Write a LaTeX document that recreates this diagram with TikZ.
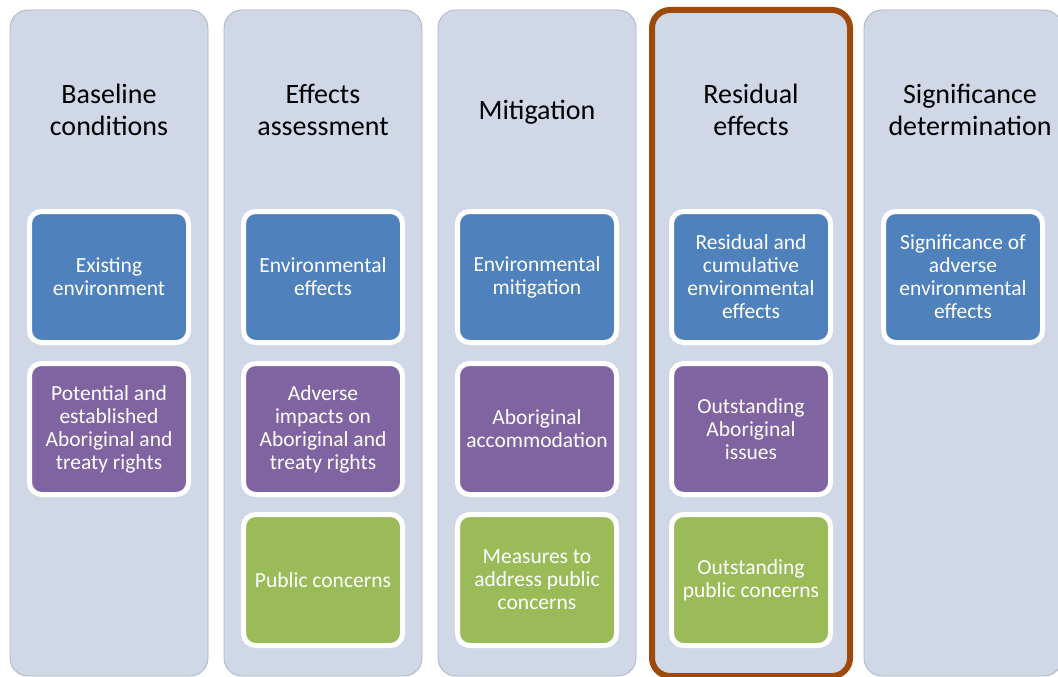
\documentclass[tikz,border=0pt]{standalone}
\usepackage{fontspec}
\setmainfont{Carlito}
\definecolor{colfill}{RGB}{208,216,232}
\definecolor{colline}{RGB}{172,180,194}
\definecolor{bluebox}{RGB}{79,129,189}
\definecolor{purplebox}{RGB}{128,100,162}
\definecolor{greenbox}{RGB}{155,187,89}
\definecolor{orangeedge}{RGB}{158,74,10}
\begin{document}
\begin{tikzpicture}[x=1pt,y=-1pt,
  column/.style={draw=colline, line width=0.8pt, fill=colfill, rounded corners=18pt,
    minimum width=198pt, minimum height=666pt, inner sep=0pt, outer sep=0pt},
  highlight/.style={draw=orangeedge, line width=6pt},
  heading/.style={font=\fontsize{28}{32}\selectfont, align=center, text=black, inner sep=0pt},
  box/.style={draw=white, line width=5pt, rounded corners=12pt, minimum width=159pt,
    minimum height=131pt, inner sep=0pt, text=white, font=\fontsize{21.5}{23}\selectfont, align=center},
  envbox/.style={box, fill=bluebox},
  abobox/.style={box, fill=purplebox},
  pubbox/.style={box, fill=greenbox}]
\useasboundingbox (0,0) rectangle (1058,677);
\fill[white] (0,0) rectangle (1058,677);
% columns
\node[column] (c1) at (109,343) {};
\node[column] (c2) at (323,343) {};
\node[column] (c3) at (537,343) {};
\node[column, highlight] (c4) at (751,343) {};
\node[column] (c5) at (963,343) {};
% headings
\node[heading] (h1) at (109,110) {Baseline\\conditions};
\node[heading] (h2) at (323,110) {Effects\\assessment};
\node[heading] (h3) at (537,112) {Mitigation};
\node[heading] (h4) at (751,110) {Residual\\effects};
\node[heading] (h5) at (970,110) {Significance\\determination};
% column 1
\node[envbox] (b11) at (109,277) {Existing\\environment};
\node[abobox] (b12) at (109,429) {Potential and\\established\\Aboriginal and\\treaty rights};
% column 2
\node[envbox] (b21) at (323,277) {Environmental\\effects};
\node[abobox] (b22) at (323,429) {Adverse\\impacts on\\Aboriginal and\\treaty rights};
\node[pubbox] (b23) at (323,580) {Public concerns};
% column 3
\node[envbox] (b31) at (537,277) {Environmental\\mitigation};
\node[abobox] (b32) at (537,429) {Aboriginal\\accommodation};
\node[pubbox] (b33) at (537,580) {Measures to\\address public\\concerns};
% column 4
\node[envbox] (b41) at (751,277) {Residual and\\cumulative\\environmental\\effects};
\node[abobox] (b42) at (751,429) {Outstanding\\Aboriginal\\issues};
\node[pubbox] (b43) at (751,580) {Outstanding\\public concerns};
% column 5
\node[envbox] (b51) at (963,277) {Significance of\\adverse\\environmental\\effects};
\end{tikzpicture}
\end{document}
